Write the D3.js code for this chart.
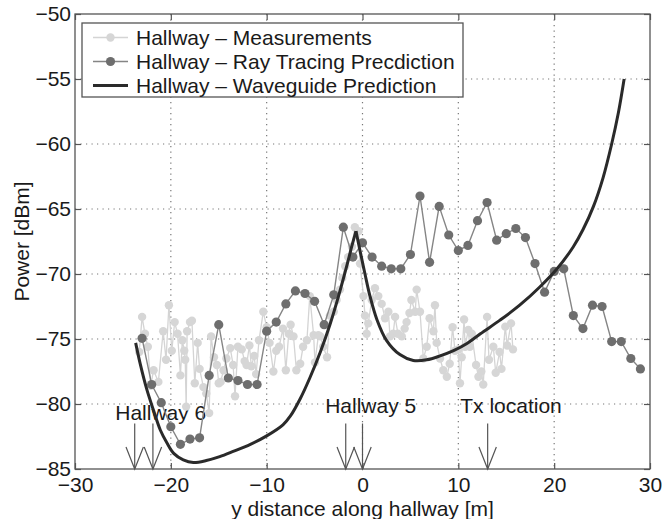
<!DOCTYPE html>
<html>
<head>
<meta charset="utf-8">
<script src="https://cdn.jsdelivr.net/npm/d3@7"></script>
<style>
  body { margin: 0; background: #fff; }
  svg text { font-family: "Liberation Sans", Arial, Helvetica, sans-serif; fill: #1a1a1a; }
</style>
</head>
<body>
<svg id="chart" width="664" height="519"></svg>
<script>
// measured points (light gray)
const measX = [-23.3,-23.0,-22.7,-22.4,-22.1,-21.8,-21.3,-20.8,-20.5,-20.2,-19.9,-19.6,-19.3,-19.0,-18.8,-18.6,-18.5,-18.4,-18.3,-18.0,
  -17.8,-17.5,-17.2,-17.0,-16.6,-16.3,-16.0,-15.8,-15.5,-15.2,-15.0,-14.8,-14.5,-14.2,-13.8,-13.5,-13.3,-13.0,-12.6,-12.3,
  -12.1,-11.8,-11.6,-11.3,-11.1,-10.8,-10.35,-10.0,-9.7,-9.3,-9.0,-8.7,-8.3,-8.0,-7.7,-7.5,-7.2,-6.9,-6.5,-6.2,
  -5.8,-5.5,-5.1,-4.96,-4.6,-4.4,-4.1,-3.7,-3.4,-3.0,-2.7,-2.35,-2.1,-1.8,-1.5,-1.1,-0.8,-0.4,-0.26,0.1,
  0.26,0.43,0.6,0.96,1.3,1.65,2.0,2.35,2.7,2.87,3.2,3.4,3.7,4.1,4.4,4.6,4.9,5.1,5.5,5.65,
  6.0,6.35,6.7,7.0,7.4,7.56,7.74,8.09,8.43,8.8,9.1,9.4,9.65,10.0,10.17,10.35,10.6,10.7,11.04,11.2,
  11.4,11.85,12.1,12.4,12.6,13.0,13.2,13.65,13.9,14.3,14.5,14.9,15.1,15.5,15.7];
const measY = [-76.0,-73.3,-74.6,-75.6,-78.6,-77.4,-78.3,-74.4,-76.6,-72.4,-75.9,-73.7,-74.6,-77.8,-75.1,-75.9,-76.6,-80.2,-74.4,-73.7,
  -73.6,-78.4,-75.3,-77.3,-78.7,-79.2,-80.7,-74.8,-76.4,-77.0,-78.4,-78.3,-77.4,-76.5,-75.7,-77.0,-79.4,-75.6,-75.8,-76.7,
  -77.0,-75.5,-77.1,-76.3,-77.7,-75.1,-72.9,-74.1,-75.3,-77.5,-75.9,-75.6,-74.2,-77.4,-74.6,-73.9,-74.8,-77.4,-76.9,-75.6,
  -75.1,-71.7,-74.7,-76.8,-74.7,-74.8,-75.6,-76.4,-73.2,-72.9,-72.0,-71.2,-70.3,-69.4,-68.7,-67.9,-66.4,-66.7,-69.2,-71.7,
  -73.2,-74.6,-73.8,-72.0,-71.1,-71.7,-72.3,-73.4,-72.9,-74.8,-74.6,-73.3,-74.6,-74.8,-74.2,-73.7,-73.0,-72.0,-72.9,-71.2,
  -72.9,-76.5,-75.6,-73.4,-74.4,-72.4,-75.3,-76.5,-77.4,-77.9,-76.9,-74.1,-75.9,-75.8,-78.4,-76.4,-73.5,-75.6,-74.3,-75.6,
  -74.6,-77.0,-77.9,-77.5,-78.5,-73.3,-76.6,-75.6,-77.6,-76.0,-77.3,-74.05,-75.5,-73.8,-75.8];

// ray tracing prediction, one per metre
const rayX = [-23,-22,-21,-20,-19,-18,-17,-16,-15,-14,-13,-12,-11,-10,-9,-8,-7,-6,-5,-4,-3,-2,-1,0,1,2,3,4,5,6,
  7,8,9,10,11,12,13,14,15,16,17,18,19,20,21,22,23,24,25,26,27,28,29];
const rayY = [-74.95,-78.5,-79.9,-81.75,-83.1,-82.7,-82.6,-77.8,-73.9,-78.0,-78.2,-78.5,-78.5,-74.4,-73.7,-72.3,-71.3,-71.5,-72.1,-73.9,
  -71.6,-66.4,-68.7,-67.6,-68.7,-69.4,-69.6,-69.6,-68.5,-64.0,-69.1,-64.8,-67.0,-68.2,-67.8,-65.9,-64.5,-67.4,-66.9,-66.5,
  -67.2,-69.2,-71.4,-69.8,-69.6,-73.2,-74.2,-72.4,-72.5,-75.2,-75.2,-76.5,-77.3];

// waveguide prediction (two branches meeting at the cusp)
const guideLeftX = [-23.67,-23.2,-22.5,-21.8,-21.1,-20.4,-19.7,-18.7,-17.65,-16.3,-14.9,-13.5,-11.7,-10.0,-8.3,-7.5,-6.5,-5.5,-4.4,-3.4,-2.5,-1.65,-1.13,-0.68];
const guideLeftY = [-75.3,-76.9,-78.9,-80.5,-82.0,-83.0,-83.8,-84.3,-84.5,-84.35,-84.05,-83.65,-83.1,-82.45,-81.6,-80.9,-79.6,-78.0,-76.0,-73.9,-71.7,-69.4,-67.9,-66.7];
const guideRightX = [-0.68,-0.26,0.26,0.78,1.5,2.5,3.9,5.3,6.7,8.1,9.5,10.9,12.3,14.35,16.4,18.5,20.3,22.0,23.0,24.1,25.1,26.0,26.7,27.3];
const guideRightY = [-66.7,-68.2,-70.0,-71.7,-73.5,-75.1,-76.2,-76.65,-76.6,-76.3,-75.9,-75.35,-74.6,-73.55,-72.4,-71.0,-69.6,-67.9,-66.6,-64.8,-62.6,-60.0,-57.6,-55.0];

const xTicks = [-30,-20,-10,0,10,20,30];
const yTicks = [-85,-80,-75,-70,-65,-60,-55,-50];

// hallway markers
const arrowX = [-23.77,-21.87,-1.75,0,13.06];
const notes = [
  { text: "Hallway 6", x: -25.8, y: -81.2 },
  { text: "Hallway 5", x: -3.9, y: -80.7 },
  { text: "Tx location", x: 10.2, y: -80.7 }
];

const legendItems = ["Hallway \u2013 Measurements", "Hallway \u2013 Ray Tracing Precdiction", "Hallway \u2013 Waveguide Prediction"];

const marginLeft = 75, marginTop = 14, width = 575, height = 455;
const svg = d3.select("#chart");
const g = svg.append("g").attr("transform", `translate(${marginLeft},${marginTop})`);

const x = d3.scaleLinear().domain([-30, 30]).range([0, width]);
const y = d3.scaleLinear().domain([-85, -50]).range([height, 0]);

// dotted grid
g.append("g").selectAll("line").data(xTicks.slice(1, -1)).join("line")
  .attr("x1", d => x(d)).attr("x2", d => x(d)).attr("y1", 0).attr("y2", height)
  .attr("stroke", "#777").attr("stroke-width", 1.2).attr("stroke-dasharray", "1.2,4.3");
g.append("g").selectAll("line").data(yTicks.slice(1, -1)).join("line")
  .attr("y1", d => y(d)).attr("y2", d => y(d)).attr("x1", 0).attr("x2", width)
  .attr("stroke", "#777").attr("stroke-width", 1.2).attr("stroke-dasharray", "1.2,4.3");

// axes with inward ticks
const fontSize = 21;
g.append("g").attr("transform", `translate(0,${height})`)
  .call(d3.axisBottom(x).tickValues(xTicks).tickSize(-6).tickPadding(8));
g.append("g")
  .call(d3.axisLeft(y).tickValues(yTicks).tickSize(-6).tickPadding(4));
g.append("g").call(d3.axisTop(x).tickValues(xTicks).tickSize(-6).tickFormat(""));
g.append("g").attr("transform", `translate(${width},0)`)
  .call(d3.axisRight(y).tickValues(yTicks).tickSize(-6).tickFormat(""));
g.selectAll(".domain").remove();
g.selectAll(".tick line").attr("stroke", "#555").attr("stroke-width", 1.2);
g.selectAll(".tick text").attr("font-size", fontSize).attr("font-family", "Liberation Sans, Arial, sans-serif").attr("fill", "#1a1a1a");

// arrows and labels
arrowX.forEach(a => {
  const ax = x(a), y0 = y(-81.5), y1 = y(-85);
  g.append("line").attr("x1", ax).attr("x2", ax).attr("y1", y0).attr("y2", y1)
    .attr("stroke", "#555").attr("stroke-width", 1.2);
  g.append("path").attr("d", `M${ax - 8.7},${y1 - 22}L${ax},${y1}L${ax + 8.7},${y1 - 22}`)
    .attr("fill", "none").attr("stroke", "#555").attr("stroke-width", 1.2);
});
g.selectAll(".note").data(notes).join("text").attr("class", "note")
  .attr("x", d => x(d.x)).attr("y", d => y(d.y))
  .attr("font-size", fontSize).text(d => d.text);

// measurements
const plainLine = d3.line().x(d => x(d[0])).y(d => y(d[1]));
const meas = d3.zip(measX, measY);
g.append("path").attr("d", plainLine(meas)).attr("fill", "none").attr("stroke", "#d4d4d4").attr("stroke-width", 1.3);
g.append("g").selectAll("circle").data(meas).join("circle")
  .attr("cx", d => x(d[0])).attr("cy", d => y(d[1])).attr("r", 4.2).attr("fill", "#d6d6d6");

// ray tracing
const ray = d3.zip(rayX, rayY);
g.append("path").attr("d", plainLine(ray)).attr("fill", "none").attr("stroke", "#858585").attr("stroke-width", 1.4);
g.append("g").selectAll("circle").data(ray).join("circle")
  .attr("cx", d => x(d[0])).attr("cy", d => y(d[1])).attr("r", 4.6).attr("fill", "#6e6e6e");

// waveguide
const guideLine = d3.line().x(d => x(d[0])).y(d => y(d[1])).curve(d3.curveCatmullRom.alpha(0.5));
[d3.zip(guideLeftX, guideLeftY), d3.zip(guideRightX, guideRightY)].forEach(part => {
  g.append("path").attr("d", guideLine(part)).attr("fill", "none")
    .attr("stroke", "#2a2a2a").attr("stroke-width", 3).attr("stroke-linejoin", "round");
});

// box
g.append("rect").attr("width", width).attr("height", height)
  .attr("fill", "none").attr("stroke", "#555").attr("stroke-width", 1.3);

// legend
const lg = svg.append("g");
lg.append("rect").attr("x", 82).attr("y", 23).attr("width", 381).attr("height", 74)
  .attr("fill", "#fff").attr("stroke", "#555").attr("stroke-width", 1.3);
const rowY = [37.5, 61.5, 85.5];
const sampleColors = ["#d4d4d4", "#858585", "#2a2a2a"];
legendItems.forEach((t, i) => {
  lg.append("line").attr("x1", 93).attr("x2", 128).attr("y1", rowY[i]).attr("y2", rowY[i])
    .attr("stroke", sampleColors[i]).attr("stroke-width", i === 2 ? 3 : 1.4);
  if (i < 2) lg.append("circle").attr("cx", 110.5).attr("cy", rowY[i]).attr("r", i === 0 ? 4.2 : 4.6)
    .attr("fill", i === 0 ? "#d6d6d6" : "#6e6e6e");
  lg.append("text").attr("x", 136).attr("y", rowY[i] + 7).attr("font-size", fontSize).text(t);
});

// axis titles
svg.append("text").attr("x", marginLeft + width / 2).attr("y", 516).attr("text-anchor", "middle")
  .attr("font-size", fontSize).text("y distance along hallway [m]");
svg.append("text").attr("transform", `translate(29,${marginTop + height / 2}) rotate(-90)`)
  .attr("text-anchor", "middle").attr("font-size", fontSize).text("Power [dBm]");
</script>
</body>
</html>
